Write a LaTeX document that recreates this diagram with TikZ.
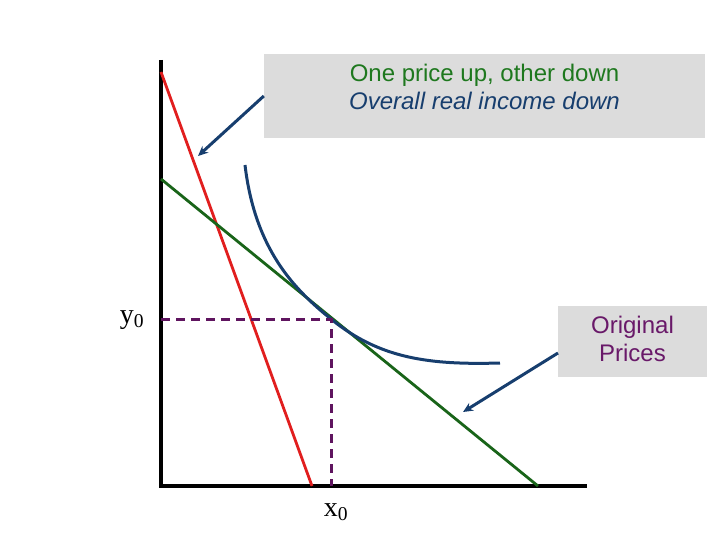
\documentclass[tikz,border=0pt]{standalone}
\usepackage{fontspec}
\setmainfont{Liberation Serif}
\setsansfont{Liberation Sans}
\usetikzlibrary{arrows.meta}
\definecolor{lineRed}{RGB}{225,30,30}
\definecolor{lineGreen}{RGB}{25,100,25}
\definecolor{navy}{RGB}{23,62,110}
\definecolor{plum}{RGB}{95,20,95}
\definecolor{boxGray}{RGB}{220,220,220}
\definecolor{textGreen}{RGB}{30,120,30}
\definecolor{textPlum}{RGB}{105,25,105}
\tikzset{
  note/.style={fill=boxGray,draw=none,inner sep=0pt},
  notetext/.style={font=\sffamily\fontsize{24}{28}\selectfont,align=center,inner sep=0pt},
  axislabel/.style={font=\fontsize{28}{32}\selectfont,inner sep=0pt},
  pointer/.style={->,navy,line width=3pt}
}
\begin{document}
\begin{tikzpicture}[x=1pt,y=-1pt,>={Stealth[length=10pt,width=9pt]}]
\useasboundingbox (0,0) rectangle (720,540);
% axes
\coordinate (O) at (161,486);
\coordinate (ytop) at (161,60);
\coordinate (xend) at (587,486);
\draw[line width=4pt] (ytop) -- (O) -- (xend);
% budget lines
\draw[lineRed,line width=2.8pt] (161,72) -- (312,486);
\draw[lineGreen,line width=2.8pt] (161,179) -- (538,486);
% indifference curve
\draw[navy,line width=3pt] (245,165) .. controls (255,250) and (295,290) .. (331,319)
  .. controls (380,359) and (430,365) .. (500,363);
% optimum
\coordinate (E) at (331,319);
\draw[plum,line width=3pt,dash pattern=on 9pt off 6pt] (161,319) -- (E) -- (331,486);
\node[axislabel] (ylab) at (132,320) {y\textsubscript{0}};
\node[axislabel] (xlab) at (336,512) {x\textsubscript{0}};
% notes
\node[note,minimum width=441pt,minimum height=84pt] (boxA) at (484.5,96) {};
\node[notetext] (textA) at (484.5,87) {\textcolor{textGreen}{One price up, other down}\\
  \textcolor{navy}{\itshape Overall real income down}};
\node[note,minimum width=149pt,minimum height=71pt] (boxB) at (632.5,341.5) {};
\node[notetext,textPlum] (textB) at (632.5,339) {Original\\Prices};
\coordinate (tipA) at (198,156);
\coordinate (startB) at (558,353);
\coordinate (tipB) at (463,412);
\draw[pointer] (boxA.west) -- (tipA);
\draw[pointer] (startB) -- (tipB);
\end{tikzpicture}
\end{document}
